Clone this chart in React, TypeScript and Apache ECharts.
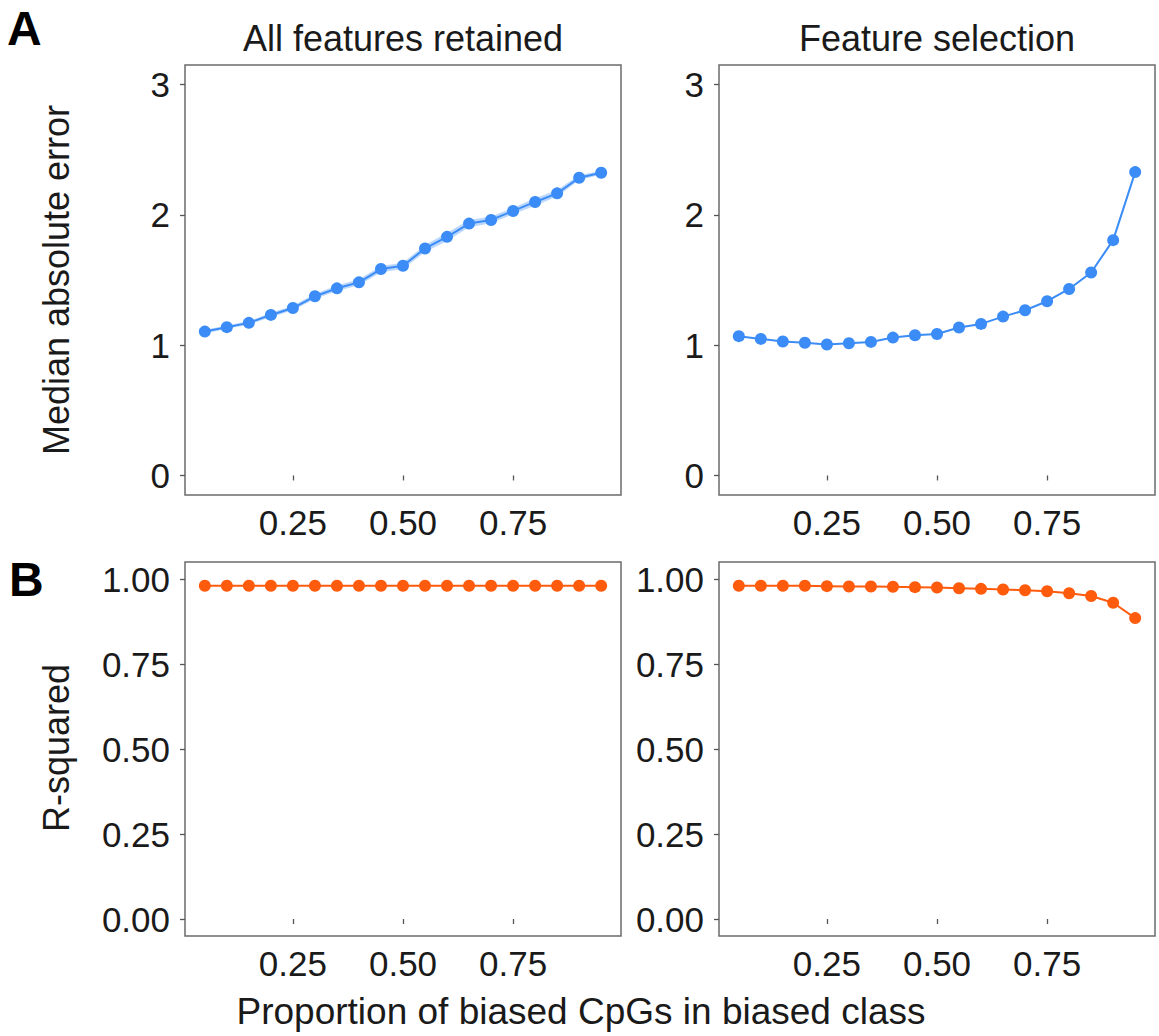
import React, { useEffect, useRef } from "react";
import * as echarts from "echarts";

const proportions = [0.05, 0.1, 0.15, 0.2, 0.25, 0.3, 0.35, 0.4, 0.45, 0.5, 0.55, 0.6, 0.65, 0.7, 0.75, 0.8, 0.85, 0.9, 0.95];

const maeAll = [1.104, 1.138, 1.171, 1.232, 1.285, 1.375, 1.436, 1.482, 1.584, 1.609, 1.742, 1.831, 1.933, 1.961, 2.03, 2.099, 2.165, 2.285, 2.323];
const maeAllLower = [1.09, 1.125, 1.158, 1.215, 1.268, 1.355, 1.415, 1.46, 1.56, 1.585, 1.715, 1.8, 1.905, 1.935, 2.005, 2.07, 2.14, 2.265, 2.31];
const maeAllUpper = [1.118, 1.15, 1.185, 1.248, 1.302, 1.395, 1.457, 1.505, 1.608, 1.633, 1.768, 1.862, 1.96, 1.988, 2.055, 2.128, 2.19, 2.305, 2.336];

const maeSel = [1.069, 1.048, 1.028, 1.018, 1.005, 1.015, 1.025, 1.058, 1.076, 1.086, 1.135, 1.163, 1.219, 1.268, 1.337, 1.431, 1.558, 1.806, 2.328];

const r2All = [0.98, 0.98, 0.98, 0.98, 0.98, 0.98, 0.98, 0.98, 0.98, 0.98, 0.98, 0.98, 0.98, 0.98, 0.98, 0.98, 0.98, 0.98, 0.98];
const r2Sel = [0.98, 0.98, 0.98, 0.98, 0.979, 0.978, 0.978, 0.977, 0.976, 0.975, 0.973, 0.971, 0.969, 0.967, 0.964, 0.958, 0.95, 0.93, 0.885];

const xTicks = [0.25, 0.5, 0.75];
const maeTicks = [0, 1, 2, 3];
const r2Ticks = [0, 0.25, 0.5, 0.75, 1];

const panelTitles = ["All features retained", "Feature selection"];
const yTitles = ["Median absolute error", "R-squared"];
const xTitle = "Proportion of biased CpGs in biased class";

const BLUE = "#3b8cf6";
const ORANGE = "#ff5b0d";
const FONT = "Liberation Sans, Arial, Helvetica, sans-serif";

export default function App() {
  const ref = useRef<HTMLDivElement>(null);
  useEffect(() => {
    if (!ref.current) return;
    const chart = echarts.init(ref.current, null, { renderer: "svg" });

    const grids = [
      { left: 185, top: 65, width: 436, height: 430 },
      { left: 719, top: 65, width: 436, height: 430 },
      { left: 185, top: 562, width: 436, height: 374 },
      { left: 719, top: 562, width: 436, height: 374 },
    ].map((g) => ({ ...g, show: true, borderColor: "#6b6b6b", borderWidth: 1.5, backgroundColor: "#fff" }));

    const xAxes = grids.map((_, i) => ({
      type: "value",
      gridIndex: i,
      min: 0.005,
      max: 0.995,
      axisLine: { show: false },
      splitLine: { show: false },
      axisTick: { show: true, length: 5, lineStyle: { color: "#555", width: 1.3 }, customValues: xTicks },
      axisLabel: {
        show: true,
        customValues: xTicks,
        margin: 10,
        fontSize: 35,
        fontFamily: FONT,
        color: "#1a1a1a",
        formatter: (v: number) => v.toFixed(2),
      },
    }));

    const yAxes = grids.map((_, i) => {
      const top = i < 2;
      const ticks = top ? maeTicks : r2Ticks;
      return {
        type: "value",
        gridIndex: i,
        min: top ? -0.15 : -0.05,
        max: top ? 3.15 : 1.05,
        axisLine: { show: false },
        splitLine: { show: false },
        axisTick: { show: true, length: 5, lineStyle: { color: "#555", width: 1.3 }, customValues: ticks },
        axisLabel: {
          show: true,
          customValues: ticks,
          margin: 15,
          fontSize: 35,
          fontFamily: FONT,
          color: "#1a1a1a",
          formatter: (v: number) => (top ? String(Math.round(v)) : v.toFixed(2)),
        },
      };
    });

    const pts = (ys: number[]) => proportions.map((x, i) => [x, ys[i]]);

    const lineSeries = (idx: number, ys: number[], color: string) => ({
      type: "line",
      xAxisIndex: idx,
      yAxisIndex: idx,
      data: pts(ys),
      symbol: "circle",
      symbolSize: 12,
      itemStyle: { color },
      lineStyle: { color, width: 2 },
      z: 3,
      silent: true,
    });

    const band = {
      type: "custom",
      xAxisIndex: 0,
      yAxisIndex: 0,
      silent: true,
      z: 2,
      data: proportions.map((x, i) => [x, maeAllLower[i], maeAllUpper[i]]),
      renderItem: (params: any, api: any) => {
        if (params.dataIndex !== 0) return null;
        const upper = proportions.map((x, i) => api.coord([x, maeAllUpper[i]]));
        const lower = proportions.map((x, i) => api.coord([x, maeAllLower[i]])).reverse();
        return {
          type: "polygon",
          shape: { points: upper.concat(lower) },
          style: { fill: "rgba(59,140,246,0.35)" },
        };
      },
    };

    const text = (t: string, x: number, y: number, extra: any = {}) => ({
      type: "text",
      x,
      y,
      silent: true,
      style: {
        text: t,
        fontFamily: FONT,
        fontSize: 36,
        fill: "#1a1a1a",
        align: "center",
        verticalAlign: "middle",
        ...extra,
      },
    });

    chart.setOption({
      animation: false,
      backgroundColor: "#fff",
      grid: grids,
      xAxis: xAxes,
      yAxis: yAxes,
      series: [
        band,
        lineSeries(0, maeAll, BLUE),
        lineSeries(1, maeSel, BLUE),
        lineSeries(2, r2All, ORANGE),
        lineSeries(3, r2Sel, ORANGE),
      ],
      graphic: [
        text("A", 7, 28, { align: "left", fontSize: 48, fontWeight: "bold", fill: "#000" }),
        text("B", 9, 579, { align: "left", fontSize: 48, fontWeight: "bold", fill: "#000" }),
        text(panelTitles[0], 403, 38),
        text(panelTitles[1], 937, 38),
        { ...text(yTitles[0], 56, 280, { fontSize: 36 }), rotation: Math.PI / 2 },
        { ...text(yTitles[1], 56, 748, { fontSize: 36 }), rotation: Math.PI / 2 },
        text(xTitle, 581, 1011, { fontSize: 37 }),
      ],
    });

    return () => chart.dispose();
  }, []);

  return (
    <div
      ref={ref}
      style={{ position: "fixed", left: 0, top: 0, width: 1159, height: 1036, background: "#fff" }}
    />
  );
}
